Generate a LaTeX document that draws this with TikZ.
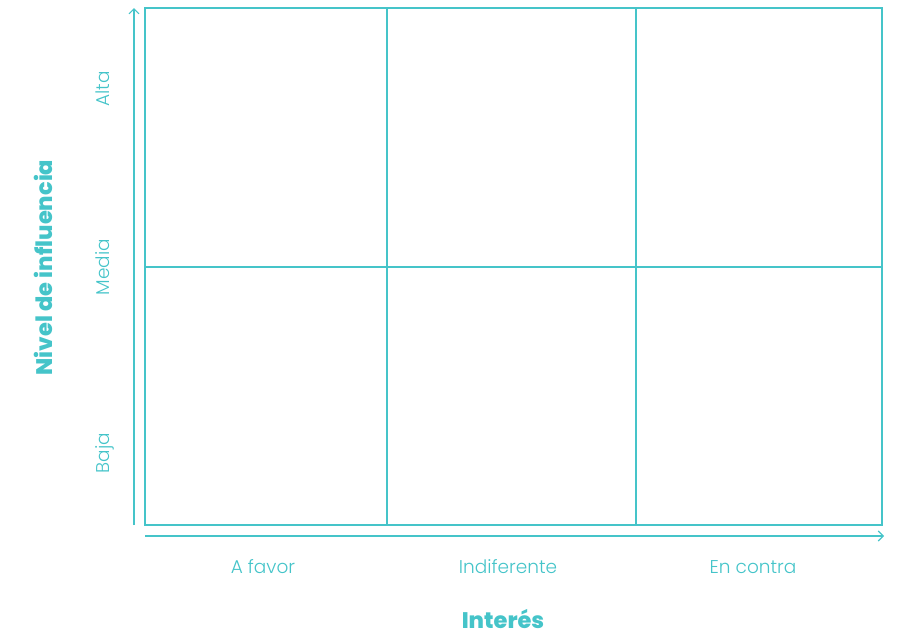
\documentclass[tikz,border=0pt]{standalone}
\usepackage{fontspec}
\setmainfont{Poppins}
\newfontfamily\lightfont{Poppins Light}
\newfontfamily\boldfont{Poppins ExtraBold}
\usetikzlibrary{arrows.meta}
\definecolor{teal}{HTML}{45C4C9}
\begin{document}
\begin{tikzpicture}[x=1pt,y=-1pt,
  gridline/.style={draw=teal,line width=1.1pt},
  axisline/.style={draw=teal,line width=1.1pt,-{Straight Barb[length=5pt,width=10pt]}},
  lbl/.style={text=teal,font=\lightfont\fontsize{18.5}{20}\selectfont,inner sep=0pt,anchor=base},
  ttl/.style={text=teal,font=\boldfont\fontsize{22.5}{26}\selectfont,inner sep=0pt,anchor=base}]
\useasboundingbox (0,0) rectangle (897,635);
\coordinate (tl) at (145,8);
\coordinate (br) at (882,525);
\draw[gridline] (tl) rectangle (br);
\coordinate (v1t) at (387,8); \coordinate (v1b) at (387,525);
\coordinate (v2t) at (636,8); \coordinate (v2b) at (636,525);
\coordinate (hl) at (145,267); \coordinate (hr) at (882,267);
\draw[gridline] (v1t) -- (v1b);
\draw[gridline] (v2t) -- (v2b);
\draw[gridline] (hl) -- (hr);
\coordinate (ya) at (134,525); \coordinate (yb) at (134,8);
\draw[axisline] (ya) -- (yb);
\coordinate (xa) at (145,536); \coordinate (xb) at (884,536);
\draw[axisline] (xa) -- (xb);
\node[lbl,rotate=90] (alta) at (109,89) {Alta};
\node[lbl,rotate=90] (media) at (109,267) {Media};
\node[lbl,rotate=90] (baja) at (109,453) {Baja};
\node[lbl] (favor) at (263,573) {A favor};
\node[lbl] (indif) at (508,573) {Indiferente};
\node[lbl] (contra) at (753,573) {En contra};
\node[ttl] (interes) at (503,628) {Interés};
\node[ttl,rotate=90] (nivel) at (52,267.5) {Nivel de influencia};
\end{tikzpicture}
\end{document}
